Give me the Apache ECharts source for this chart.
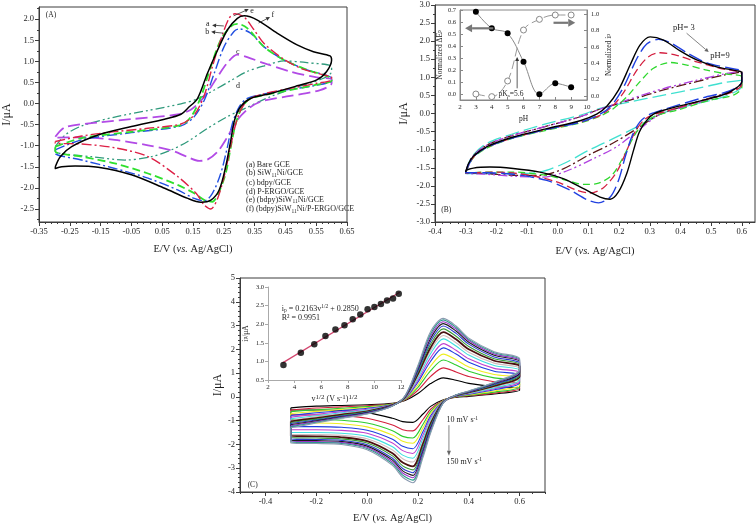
<!DOCTYPE html>
<html>
<head>
<meta charset="utf-8">
<script src="https://cdn.jsdelivr.net/npm/echarts@6.0.0/dist/echarts.min.js"></script>
<style>
html,body{margin:0;padding:0;background:#ffffff;}
#chart{width:756px;height:528px;}
</style>
</head>
<body>
<div id="chart"></div>
<script>
// ================= Panel A : CVs at different electrodes  [E (V), I (uA)] =================
const A_a_bareGCE = [[-0.297,-1.02],[-0.211,-0.82],[-0.05,-0.67],[0.111,-0.51],[0.144,-0.31],[0.176,0.165],[0.208,0.876],[0.24,1.51],[0.273,1.83],[0.294,1.89],[0.326,1.79],[0.38,1.35],[0.445,1.035],[0.52,0.80],[0.6,0.58],[0.6,0.54],[0.541,0.43],[0.434,0.275],[0.337,0.12],[0.31,-0.08],[0.289,-0.47],[0.273,-1.02],[0.256,-1.66],[0.23,-2.17],[0.213,-2.33],[0.187,-2.29],[0.154,-2.13],[0.1,-1.93],[0.004,-1.66],[-0.104,-1.42],[-0.211,-1.26],[-0.297,-1.14],[-0.297,-1.02]];
const A_b_SiW11Ni = [[-0.297,-1.10],[-0.211,-0.86],[-0.05,-0.69],[0.111,-0.53],[0.154,-0.31],[0.187,0.085],[0.219,0.72],[0.251,1.35],[0.283,1.71],[0.3,1.77],[0.337,1.67],[0.38,1.35],[0.445,1.035],[0.52,0.80],[0.6,0.60],[0.6,0.54],[0.541,0.42],[0.434,0.30],[0.326,0.12],[0.3,-0.08],[0.278,-0.47],[0.262,-1.02],[0.24,-1.66],[0.213,-2.13],[0.187,-2.31],[0.154,-2.25],[0.1,-2.05],[0.004,-1.77],[-0.104,-1.54],[-0.211,-1.34],[-0.297,-1.18],[-0.297,-1.10]];
const A_c_bdpy = [[-0.297,-0.79],[-0.265,-0.56],[-0.158,-0.45],[-0.05,-0.37],[0.1,-0.26],[0.144,-0.14],[0.187,0.165],[0.23,0.64],[0.262,0.97],[0.294,1.16],[0.326,1.10],[0.38,0.96],[0.466,0.76],[0.552,0.62],[0.6,0.58],[0.6,0.48],[0.563,0.32],[0.466,0.18],[0.38,0.07],[0.337,-0.08],[0.294,-0.39],[0.262,-0.79],[0.23,-1.14],[0.197,-1.33],[0.17,-1.36],[0.133,-1.27],[0.079,-1.11],[0.004,-0.99],[-0.104,-0.86],[-0.211,-0.80],[-0.297,-0.81],[-0.297,-0.79]];
const A_d_PERGO = [[-0.297,-1.02],[-0.265,-0.745],[-0.211,-0.53],[-0.104,-0.32],[0.004,-0.165],[0.111,-0.007],[0.165,0.11],[0.219,0.32],[0.273,0.545],[0.326,0.76],[0.38,0.89],[0.445,1.01],[0.52,0.97],[0.6,0.88],[0.6,0.76],[0.574,0.60],[0.488,0.39],[0.402,0.165],[0.326,-0.09],[0.262,-0.31],[0.197,-0.59],[0.133,-0.90],[0.079,-1.10],[0.015,-1.26],[-0.071,-1.34],[-0.179,-1.26],[-0.265,-1.20],[-0.297,-1.14],[-0.297,-1.02]];
const A_e_bdpySiW11Ni = [[-0.297,-0.90],[-0.211,-0.77],[-0.104,-0.667],[0.004,-0.587],[0.111,-0.485],[0.154,-0.27],[0.187,0.204],[0.213,0.876],[0.24,1.51],[0.267,2.02],[0.286,2.13],[0.316,2.05],[0.348,1.75],[0.38,1.43],[0.445,1.05],[0.509,0.81],[0.574,0.68],[0.6,0.62],[0.6,0.56],[0.552,0.48],[0.466,0.36],[0.38,0.23],[0.332,0.10],[0.305,-0.15],[0.285,-0.59],[0.27,-1.10],[0.251,-1.73],[0.23,-2.25],[0.208,-2.50],[0.187,-2.41],[0.16,-2.13],[0.1,-1.73],[0.004,-1.26],[-0.104,-1.05],[-0.211,-0.96],[-0.297,-0.94],[-0.297,-0.90]];
const A_f_composite = [[-0.297,-1.50],[-0.281,-1.26],[-0.244,-1.02],[-0.158,-0.745],[-0.05,-0.547],[0.0575,-0.373],[0.111,-0.255],[0.133,-0.11],[0.165,0.125],[0.197,0.72],[0.23,1.27],[0.262,1.75],[0.294,2.02],[0.316,2.08],[0.359,1.98],[0.423,1.67],[0.488,1.39],[0.541,1.23],[0.595,1.13],[0.6,1.03],[0.584,0.76],[0.552,0.56],[0.488,0.42],[0.402,0.24],[0.337,0.12],[0.305,-0.07],[0.285,-0.39],[0.273,-0.86],[0.256,-1.50],[0.235,-2.05],[0.208,-2.29],[0.176,-2.34],[0.133,-2.25],[0.058,-2.01],[-0.05,-1.69],[-0.158,-1.51],[-0.233,-1.48],[-0.276,-1.50],[-0.297,-1.54],[-0.297,-1.50]];

// ================= Panel B : CVs at pH 3 ... 9 =================
const B_pH3 = [[-0.3,-1.62],[-0.291,-1.39],[-0.275,-1.18],[-0.232,-0.92],[-0.145,-0.65],[-0.036,-0.42],[0.073,-0.20],[0.127,-0.02],[0.16,0.20],[0.198,0.645],[0.236,1.34],[0.268,1.89],[0.301,2.12],[0.345,2.03],[0.399,1.73],[0.453,1.48],[0.518,1.29],[0.584,1.18],[0.6,1.13],[0.6,0.875],[0.562,0.60],[0.508,0.44],[0.432,0.28],[0.345,0.09],[0.312,-0.02],[0.29,-0.19],[0.266,-0.51],[0.247,-1.02],[0.225,-1.66],[0.198,-2.17],[0.171,-2.37],[0.138,-2.31],[0.084,-2.08],[0.018,-1.80],[-0.058,-1.62],[-0.145,-1.52],[-0.221,-1.48],[-0.275,-1.51],[-0.3,-1.59],[-0.3,-1.62]];
const B_pH4 = [[-0.3,-1.62],[-0.275,-1.20],[-0.232,-0.94],[-0.145,-0.67],[-0.036,-0.44],[0.073,-0.24],[0.138,-0.02],[0.176,0.23],[0.214,0.72],[0.258,1.52],[0.29,1.92],[0.328,2.05],[0.366,1.96],[0.421,1.68],[0.486,1.40],[0.562,1.25],[0.6,1.16],[0.6,0.875],[0.562,0.63],[0.475,0.44],[0.345,0.11],[0.301,-0.02],[0.268,-0.23],[0.241,-0.65],[0.22,-1.20],[0.198,-1.85],[0.171,-2.31],[0.133,-2.47],[0.095,-2.38],[0.04,-2.12],[-0.036,-1.85],[-0.145,-1.68],[-0.232,-1.64],[-0.3,-1.64],[-0.3,-1.62]];
const B_pH5 = [[-0.3,-1.62],[-0.275,-1.21],[-0.232,-0.94],[-0.145,-0.67],[-0.036,-0.44],[0.073,-0.24],[0.138,-0.05],[0.176,0.18],[0.214,0.57],[0.258,1.20],[0.296,1.57],[0.334,1.68],[0.388,1.61],[0.453,1.43],[0.529,1.25],[0.6,1.09],[0.6,0.81],[0.562,0.57],[0.475,0.37],[0.366,0.09],[0.306,-0.05],[0.279,-0.20],[0.252,-0.51],[0.225,-1.02],[0.192,-1.62],[0.149,-2.05],[0.105,-2.20],[0.062,-2.12],[-0.003,-1.89],[-0.09,-1.71],[-0.199,-1.62],[-0.3,-1.65],[-0.3,-1.62]];
const B_pH6 = [[-0.3,-1.62],[-0.275,-1.22],[-0.232,-0.96],[-0.145,-0.68],[-0.036,-0.46],[0.073,-0.26],[0.138,-0.07],[0.182,0.14],[0.225,0.46],[0.268,0.88],[0.312,1.25],[0.366,1.41],[0.421,1.34],[0.486,1.20],[0.551,1.09],[0.6,1.01],[0.6,0.72],[0.573,0.51],[0.497,0.37],[0.388,0.09],[0.323,-0.05],[0.279,-0.28],[0.247,-0.65],[0.214,-1.20],[0.176,-1.71],[0.127,-1.94],[0.084,-1.96],[0.029,-1.85],[-0.036,-1.71],[-0.145,-1.62],[-0.232,-1.62],[-0.3,-1.65],[-0.3,-1.62]];
const B_pH7 = [[-0.3,-1.62],[-0.28,-1.20],[-0.232,-0.83],[-0.145,-0.56],[-0.036,-0.28],[0.073,-0.05],[0.138,0.14],[0.236,0.32],[0.345,0.51],[0.453,0.69],[0.54,0.85],[0.6,0.92],[0.6,0.76],[0.54,0.46],[0.432,0.23],[0.334,-0.02],[0.258,-0.37],[0.182,-0.69],[0.105,-1.00],[0.018,-1.39],[-0.058,-1.62],[-0.145,-1.66],[-0.232,-1.66],[-0.3,-1.66],[-0.3,-1.62]];
const B_pH8 = [[-0.3,-1.62],[-0.28,-1.22],[-0.232,-0.88],[-0.145,-0.60],[-0.036,-0.35],[0.073,-0.09],[0.138,0.12],[0.236,0.37],[0.345,0.65],[0.453,0.88],[0.54,1.06],[0.6,1.15],[0.6,0.83],[0.54,0.55],[0.432,0.26],[0.334,-0.02],[0.258,-0.42],[0.182,-0.81],[0.105,-1.13],[0.018,-1.53],[-0.058,-1.71],[-0.145,-1.71],[-0.232,-1.66],[-0.3,-1.65],[-0.3,-1.62]];
const B_pH9 = [[-0.3,-1.62],[-0.28,-1.22],[-0.232,-0.88],[-0.145,-0.60],[-0.036,-0.35],[0.073,-0.09],[0.138,0.12],[0.236,0.40],[0.345,0.69],[0.453,0.92],[0.54,1.09],[0.6,1.18],[0.6,0.875],[0.54,0.53],[0.432,0.23],[0.334,-0.02],[0.263,-0.46],[0.192,-0.92],[0.116,-1.25],[0.029,-1.59],[-0.047,-1.76],[-0.134,-1.74],[-0.232,-1.68],[-0.3,-1.65],[-0.3,-1.62]];
// inset of panel B
const B_inset_pH  = [3, 4, 5, 6, 7, 8, 9];
const B_inset_dEp = [0.685, 0.548, 0.506, 0.271, 0.0, 0.091, 0.058];
const B_inset_ip  = [0.024, -0.008, 0.183, 0.805, 0.935, 0.988, 0.988];

// ================= Panel C : scan rates 10 ... 150 mV/s =================
const C_scanRates = [10,20,30,40,50,60,70,80,90,100,110,120,130,140,150];
const C_fwdE = [-0.3,-0.2,-0.1,0.0,0.1,0.15,0.2,0.25,0.3,0.35,0.4,0.5,0.6];
const C_revE = [0.6,0.5,0.4,0.35,0.3,0.25,0.22,0.18,0.14,0.1,0.0,-0.1,-0.2,-0.3];
const C_Ifwd = [
 [-0.46,-0.39,-0.36,-0.33,-0.27,-0.15,0.14,0.56,0.80,0.70,0.57,0.43,0.36],
 [-0.55,-0.47,-0.42,-0.37,-0.29,-0.12,0.28,0.86,1.22,1.05,0.86,0.64,0.55],
 [-0.62,-0.54,-0.48,-0.41,-0.30,-0.10,0.40,1.10,1.55,1.34,1.08,0.80,0.68],
 [-0.70,-0.61,-0.53,-0.45,-0.31,-0.08,0.50,1.30,1.80,1.56,1.26,0.94,0.80],
 [-0.78,-0.67,-0.58,-0.48,-0.32,-0.06,0.62,1.50,2.06,1.80,1.46,1.08,0.92],
 [-0.85,-0.73,-0.63,-0.52,-0.33,-0.05,0.70,1.65,2.24,1.96,1.60,1.20,1.02],
 [-0.92,-0.79,-0.67,-0.55,-0.34,-0.03,0.80,1.82,2.44,2.14,1.76,1.32,1.12],
 [-0.98,-0.84,-0.71,-0.58,-0.35,-0.02,0.88,1.95,2.58,2.28,1.88,1.42,1.20],
 [-1.03,-0.89,-0.75,-0.61,-0.35,0.00,0.96,2.08,2.72,2.42,2.00,1.52,1.28],
 [-1.08,-0.93,-0.78,-0.63,-0.36,0.01,1.04,2.22,2.86,2.55,2.12,1.60,1.36],
 [-1.12,-0.97,-0.81,-0.65,-0.36,0.02,1.10,2.34,2.98,2.67,2.22,1.68,1.42],
 [-1.17,-1.01,-0.84,-0.67,-0.37,0.03,1.17,2.46,3.08,2.77,2.30,1.75,1.48],
 [-1.21,-1.04,-0.86,-0.69,-0.37,0.04,1.22,2.56,3.16,2.85,2.37,1.80,1.53],
 [-1.25,-1.07,-0.88,-0.71,-0.38,0.05,1.27,2.66,3.24,2.92,2.42,1.86,1.57],
 [-1.30,-1.10,-0.90,-0.72,-0.38,0.06,1.32,2.75,3.30,2.98,2.47,1.90,1.61]
];
const C_Irev = [
 [0.28,0.12,0.02,-0.02,-0.12,-0.40,-0.72,-1.07,-1.04,-0.90,-0.66,-0.57,-0.55,-0.55],
 [0.35,0.16,0.05,0.00,-0.14,-0.52,-0.95,-1.43,-1.38,-1.18,-0.90,-0.79,-0.76,-0.75],
 [0.42,0.20,0.07,0.01,-0.15,-0.62,-1.15,-1.73,-1.66,-1.42,-1.10,-0.98,-0.95,-0.95],
 [0.50,0.25,0.09,0.02,-0.16,-0.70,-1.30,-1.95,-1.87,-1.60,-1.26,-1.13,-1.10,-1.10],
 [0.58,0.30,0.11,0.03,-0.17,-0.80,-1.46,-2.18,-2.08,-1.78,-1.40,-1.28,-1.25,-1.25],
 [0.65,0.34,0.13,0.04,-0.18,-0.88,-1.60,-2.38,-2.26,-1.94,-1.53,-1.41,-1.38,-1.38],
 [0.72,0.38,0.15,0.05,-0.19,-0.96,-1.74,-2.58,-2.45,-2.10,-1.66,-1.53,-1.50,-1.50],
 [0.80,0.42,0.17,0.05,-0.20,-1.04,-1.86,-2.74,-2.60,-2.23,-1.76,-1.62,-1.58,-1.58],
 [0.86,0.46,0.19,0.06,-0.21,-1.12,-1.98,-2.92,-2.76,-2.37,-1.86,-1.70,-1.66,-1.65],
 [0.92,0.50,0.20,0.06,-0.22,-1.20,-2.10,-3.07,-2.90,-2.48,-1.94,-1.77,-1.73,-1.72],
 [0.98,0.53,0.21,0.07,-0.23,-1.27,-2.20,-3.19,-3.01,-2.58,-2.01,-1.83,-1.79,-1.78],
 [1.03,0.56,0.22,0.07,-0.23,-1.34,-2.30,-3.30,-3.11,-2.66,-2.07,-1.88,-1.84,-1.83],
 [1.08,0.58,0.23,0.07,-0.24,-1.40,-2.38,-3.40,-3.20,-2.74,-2.12,-1.92,-1.88,-1.87],
 [1.12,0.60,0.24,0.08,-0.24,-1.46,-2.46,-3.50,-3.29,-2.81,-2.17,-1.96,-1.92,-1.91],
 [1.16,0.62,0.25,0.08,-0.25,-1.52,-2.54,-3.61,-3.38,-2.88,-2.22,-2.00,-1.96,-1.95]
];
// inset of panel C : ip vs v^1/2
const C_inset_sqrtV = [3.16,4.47,5.48,6.32,7.07,7.75,8.37,8.94,9.49,10.0,10.49,10.95,11.4,11.83];
const C_inset_ip    = [0.90,1.23,1.46,1.68,1.86,1.97,2.13,2.26,2.40,2.46,2.54,2.64,2.69,2.82];
const C_fitLine     = [[3.1,0.96],[11.9,2.86]];

// ================= tick labels =================
const A_xTicks = [-0.35,-0.25,-0.15,-0.05,0.05,0.15,0.25,0.35,0.45,0.55,0.65];
const A_yTicks = [-2.5,-2.0,-1.5,-1.0,-0.5,0.0,0.5,1.0,1.5,2.0];
const B_xTicks = [-0.4,-0.3,-0.2,-0.1,0.0,0.1,0.2,0.3,0.4,0.5,0.6];
const B_yTicks = [-3.0,-2.5,-2.0,-1.5,-1.0,-0.5,0.0,0.5,1.0,1.5,2.0,2.5,3.0];
const C_xTicks = [-0.4,-0.2,0.0,0.2,0.4,0.6];
const C_yTicks = [-4,-3,-2,-1,0,1,2,3,4,5];

// ================= styling =================
const FONT = "'Liberation Serif','DejaVu Serif',serif";
const AX = '#3c3c3c';
const TXT = '#1e1e1e';

function steps(a, b, s) { const r = []; const n = Math.round((b - a) / s); for (let i = 0; i <= n; i++) r.push(+(a + i * s).toFixed(4)); return r; }
function fmt(d) { return v => (Math.abs(v) < 1e-9 ? 0 : v).toFixed(d); }

function mainAxis(kind, grid, min, max, ticks, dec, pos, extra) {
  return Object.assign({
    type: 'value', gridIndex: grid, min: min, max: max, position: pos,
    axisLine: { show: true, onZero: false, lineStyle: { color: AX, width: 1 } },
    axisTick: { show: true, customValues: ticks, length: 4, lineStyle: { color: AX } },
    axisLabel: { show: true, customValues: ticks, formatter: fmt(dec), fontFamily: FONT, fontSize: 8.5, color: TXT, margin: 5 },
    splitLine: { show: false }
  }, extra || {});
}
function minorAxis(grid, min, max, vals, pos) {
  return {
    type: 'value', gridIndex: grid, min: min, max: max, position: pos,
    axisLine: { show: false, onZero: false },
    axisTick: { show: true, customValues: vals, length: 2, lineStyle: { color: AX } },
    axisLabel: { show: false }, splitLine: { show: false }
  };
}
const xName = { fontFamily: FONT, fontSize: 10.5, color: TXT, rich: { i: { fontFamily: FONT, fontSize: 10.5, fontStyle: 'italic', color: TXT } } };
const yName = { fontFamily: FONT, fontSize: 12, color: TXT };

const xAxis = [
  mainAxis('x', 0, -0.35, 0.65, A_xTicks, 2, 'bottom', { name: 'E/V ({i|vs.} Ag/AgCl)', nameLocation: 'middle', nameGap: 22, nameTextStyle: xName }),
  minorAxis(0, -0.35, 0.65, steps(-0.35, 0.65, 0.02), 'bottom'),
  mainAxis('x', 1, -0.4, 0.643, B_xTicks, 1, 'bottom', { name: 'E/V ({i|vs.} Ag/AgCl)', nameLocation: 'middle', nameGap: 24, nameTextStyle: xName }),
  minorAxis(1, -0.4, 0.643, steps(-0.4, 0.625, 0.025), 'bottom'),
  mainAxis('x', 2, 2, 10, steps(2, 10, 1), 0, 'bottom', {
    axisLine: { show: true, onZero: false, lineStyle: { color: '#888' } },
    axisTick: { show: true, customValues: steps(2, 10, 1), length: 3, inside: true, lineStyle: { color: '#888' } },
    axisLabel: { customValues: steps(2, 10, 1), formatter: fmt(0), fontFamily: FONT, fontSize: 7, color: TXT, margin: 4 },
    name: 'pH', nameLocation: 'middle', nameGap: 15, nameTextStyle: { fontFamily: FONT, fontSize: 7.5, color: TXT } }),
  mainAxis('x', 3, -0.5, 0.7, C_xTicks, 1, 'bottom', { name: 'E/V ({i|vs.} Ag/AgCl)', nameLocation: 'middle', nameGap: 21, nameTextStyle: xName }),
  minorAxis(3, -0.5, 0.7, steps(-0.5, 0.7, 0.05), 'bottom'),
  mainAxis('x', 4, 2, 12, steps(2, 12, 2), 0, 'bottom', {
    axisLine: { show: true, onZero: false, lineStyle: { color: '#aaa' } },
    axisTick: { show: true, customValues: steps(2, 12, 2), length: 3, lineStyle: { color: '#aaa' } },
    axisLabel: { customValues: steps(2, 12, 2), formatter: fmt(0), fontFamily: FONT, fontSize: 7, color: TXT, margin: 4 },
    name: 'v{sup|1/2} (V s{sup|-1}){sup|1/2}', nameLocation: 'middle', nameGap: 14,
    nameTextStyle: { fontFamily: FONT, fontSize: 8, color: TXT, rich: { sup: { fontFamily: FONT, fontSize: 7, color: TXT, padding: [0, 0, 3, 0] } } } })
];

const yAxis = [
  mainAxis('y', 0, -2.81, 2.29, A_yTicks, 1, 'left', { name: 'I/\u03bcA', nameLocation: 'middle', nameGap: 26, nameTextStyle: yName }),
  minorAxis(0, -2.81, 2.29, steps(-2.75, 2.25, 0.25), 'left'),
  mainAxis('y', 1, -3, 3, B_yTicks, 1, 'left', { name: 'I/\u03bcA', nameLocation: 'middle', nameGap: 25, nameTextStyle: yName }),
  minorAxis(1, -3, 3, steps(-3, 3, 0.25), 'left'),
  mainAxis('y', 2, -0.047, 0.7, steps(0, 0.7, 0.1), 1, 'left', {
    axisLine: { show: true, onZero: false, lineStyle: { color: '#888' } },
    axisTick: { show: true, customValues: steps(0, 0.7, 0.1), length: 3, inside: true, lineStyle: { color: '#888' } },
    axisLabel: { customValues: steps(0, 0.7, 0.1), formatter: fmt(1), fontFamily: FONT, fontSize: 6.5, color: TXT, margin: 4 },
    name: 'Normalized \u0394E{s|p}', nameLocation: 'middle', nameGap: 15,
    nameTextStyle: { fontFamily: FONT, fontSize: 7.5, color: TXT, rich: { s: { fontFamily: FONT, fontSize: 5.5, color: TXT } } } }),
  mainAxis('y', 2, -0.049, 1.049, steps(0, 1, 0.2), 1, 'right', {
    axisLine: { show: true, onZero: false, lineStyle: { color: '#888' } },
    axisTick: { show: true, customValues: steps(0, 1, 0.2), length: 3, inside: true, lineStyle: { color: '#888' } },
    axisLabel: { customValues: steps(0, 1, 0.2), formatter: fmt(1), fontFamily: FONT, fontSize: 6.5, color: TXT, margin: 4 },
    name: 'Normalized i{s|p}', nameLocation: 'middle', nameGap: 18, nameRotate: 90,
    nameTextStyle: { fontFamily: FONT, fontSize: 7.5, color: TXT, rich: { s: { fontFamily: FONT, fontSize: 5.5, color: TXT } } } }),
  mainAxis('y', 3, -4, 5, C_yTicks, 0, 'left', { name: 'I/\u03bcA', nameLocation: 'middle', nameGap: 15, nameTextStyle: yName }),
  minorAxis(3, -4, 5, steps(-4, 5, 0.2), 'left'),
  mainAxis('y', 4, 0.5, 3.0, steps(0.5, 3.0, 0.5), 1, 'left', {
    axisLine: { show: true, onZero: false, lineStyle: { color: '#aaa' } },
    axisTick: { show: true, customValues: steps(0.5, 3.0, 0.5), length: 3, lineStyle: { color: '#aaa' } },
    axisLabel: { customValues: steps(0.5, 3.0, 0.5), formatter: fmt(1), fontFamily: FONT, fontSize: 6.5, color: TXT, margin: 4 },
    name: 'i{s|p}/\u03bcA', nameLocation: 'middle', nameGap: 18,
    nameTextStyle: { fontFamily: FONT, fontSize: 7.5, color: TXT, rich: { s: { fontFamily: FONT, fontSize: 5.5, color: TXT } } } })
];

const grid = [
  { left: 37, top: 7, width: 310, height: 215, show: true, borderColor: AX, borderWidth: 1, backgroundColor: 'transparent' },
  { left: 435, top: 5, width: 320, height: 217, show: true, borderColor: AX, borderWidth: 1, backgroundColor: 'transparent' },
  { left: 460, top: 10, width: 127, height: 90, show: true, borderColor: '#888', borderWidth: 1, backgroundColor: '#ffffff' },
  { left: 240, top: 278, width: 305, height: 214, show: true, borderColor: AX, borderWidth: 1, backgroundColor: 'transparent' },
  { left: 268, top: 287, width: 133, height: 93, show: false }
];

function cv(data, xi, yi, color, width, dash, z) {
  return { type: 'line', xAxisIndex: xi, yAxisIndex: yi, data: data, showSymbol: false, symbol: 'none',
    smooth: 0.3, silent: true, animation: false, z: z || 2,
    lineStyle: { color: color, width: width, type: dash || 'solid', cap: 'butt', join: 'round' } };
}

const series = [];
series.push(cv(A_d_PERGO, 0, 0, '#2f9a7c', 1.3, [9, 3, 2, 3, 2, 3]));
series.push(cv(A_c_bdpy, 0, 0, '#b24ae6', 1.8, [12, 5]));
series.push(cv(A_b_SiW11Ni, 0, 0, '#2250e0', 1.4, [10, 3, 2, 3]));
series.push(cv(A_a_bareGCE, 0, 0, '#2ee02e', 1.8, [8, 4]));
series.push(cv(A_e_bdpySiW11Ni, 0, 0, '#dd2046', 1.4, [10, 3, 2, 3]));
series.push(cv(A_f_composite, 0, 0, '#000000', 1.5, 'solid', 3));
series.push(cv(B_pH7, 2, 2, '#40e0d0', 1.3, [14, 5]));
series.push(cv(B_pH8, 2, 2, '#5a1818', 1.3, [10, 3, 2, 3]));
series.push(cv(B_pH9, 2, 2, '#b040e0', 1.3, [9, 3, 2, 3, 2, 3]));
series.push(cv(B_pH6, 2, 2, '#2ed82e', 1.3, [7, 4]));
series.push(cv(B_pH5, 2, 2, '#d42040', 1.3, [8, 4]));
series.push(cv(B_pH4, 2, 2, '#2040e0', 1.4, [14, 5]));
series.push(cv(B_pH3, 2, 2, '#000000', 1.4, 'solid', 3));
series.push({ type: 'line', xAxisIndex: 4, yAxisIndex: 4, data: B_inset_pH.map((p, i) => [p, B_inset_dEp[i]]),
  smooth: 0.35, symbol: 'circle', symbolSize: 6, showSymbol: true, silent: true, animation: false, z: 5,
  itemStyle: { color: '#000' }, lineStyle: { color: '#888', width: 1 } });
series.push({ type: 'line', xAxisIndex: 4, yAxisIndex: 5, data: B_inset_pH.map((p, i) => [p, B_inset_ip[i]]),
  smooth: 0.35, symbol: 'circle', symbolSize: 6, showSymbol: true, silent: true, animation: false, z: 5,
  itemStyle: { color: '#fff', borderColor: '#888', borderWidth: 1 }, lineStyle: { color: '#999', width: 1, type: [9, 4] } });
const C_colors = ['#000000','#d4203c','#2ecc2e','#eeee22','#1f3fe0','#c040d0','#40e0e0','#cfbcbc','#4a1010','#3a9a3a','#2a3ad0','#1a1a1a','#9a30c8','#2a9a8a','#8a9ab0'];
C_Ifwd.forEach((row, k) => {
  const data = C_fwdE.map((e, i) => [e, row[i]]).concat(C_revE.map((e, i) => [e, C_Irev[k][i]]));
  data.push([C_fwdE[0], row[0]]);
  series.push(cv(data, 5, 6, C_colors[k], k === 8 ? 1.8 : 1.1, 'solid', 2 + k * 0.01));
});
series.push({ type: 'line', xAxisIndex: 7, yAxisIndex: 8, data: C_fitLine, showSymbol: false, symbol: 'none',
  silent: true, animation: false, lineStyle: { color: '#d2456e', width: 1.2 }, z: 4 });
series.push({ type: 'scatter', xAxisIndex: 7, yAxisIndex: 8, data: C_inset_sqrtV.map((v, i) => [v, C_inset_ip[i]]),
  symbol: 'circle', symbolSize: 6.5, silent: true, animation: false, itemStyle: { color: '#000' }, z: 5 });

const chart = echarts.init(document.getElementById('chart'), null, { renderer: 'canvas' });
chart.setOption({ animation: false, backgroundColor: '#ffffff', grid, xAxis, yAxis, series });

function P(xi, yi, pt) { return chart.convertToPixel({ xAxisIndex: xi, yAxisIndex: yi }, pt); }
function txt(p, text, o) {
  const st = Object.assign({ text: text, fontFamily: FONT, fontSize: 8, fill: TXT, align: 'left', verticalAlign: 'middle',
    textAlign: 'left', textVerticalAlign: 'middle' }, o || {});
  return { type: 'text', x: p[0], y: p[1], style: st, silent: true, z: 20 };
}
function arrow(p1, p2, color, w, hl, hw) {
  const dx = p2[0] - p1[0], dy = p2[1] - p1[1], L = Math.hypot(dx, dy), ux = dx / L, uy = dy / L;
  const bx = p2[0] - ux * hl, by = p2[1] - uy * hl;
  return [
    { type: 'line', shape: { x1: p1[0], y1: p1[1], x2: bx, y2: by }, style: { stroke: color, lineWidth: w }, silent: true, z: 20 },
    { type: 'polygon', shape: { points: [[p2[0], p2[1]], [bx - uy * hw, by + ux * hw], [bx + uy * hw, by - ux * hw]] }, style: { fill: color }, silent: true, z: 20 }
  ];
}
const sub = { n: { fontFamily: FONT, fontSize: 8, fill: TXT, color: TXT }, s: { fontFamily: FONT, fontSize: 5.5, fill: TXT, color: TXT, padding: [4, 0, 0, 0] } };
const sup = { n: { fontFamily: FONT, fontSize: 8, fill: TXT, color: TXT }, sup: { fontFamily: FONT, fontSize: 5.5, fill: TXT, color: TXT, padding: [0, 0, 4, 0] } };

const g = [];
g.push(txt(P(0, 0, [-0.328, 2.1]), '(A)', { fontSize: 7.5 }));
g.push(txt(P(0, 0, [0.336, 2.2]), 'e', { fontSize: 8 }));
g.push(...arrow(P(0, 0, [0.282, 2.08]), P(0, 0, [0.331, 2.24]), '#333', 0.8, 4, 2));
g.push(txt(P(0, 0, [0.405, 2.10]), 'f', { fontSize: 8 }));
g.push(...arrow(P(0, 0, [0.363, 1.91]), P(0, 0, [0.400, 2.05]), '#333', 0.8, 4, 2));
g.push(txt(P(0, 0, [0.192, 1.88]), 'a', { fontSize: 8 }));
g.push(...arrow(P(0, 0, [0.25, 1.84]), P(0, 0, [0.212, 1.86]), '#333', 0.8, 4, 2));
g.push(txt(P(0, 0, [0.19, 1.70]), 'b', { fontSize: 8 }));
g.push(...arrow(P(0, 0, [0.247, 1.67]), P(0, 0, [0.209, 1.70]), '#333', 0.8, 4, 2));
g.push(txt(P(0, 0, [0.29, 1.22]), 'c', { fontSize: 8 }));
g.push(txt(P(0, 0, [0.29, 0.42]), 'd', { fontSize: 8 }));
const A_legend = [
  '{n|(a) Bare GCE}',
  '{n|(b) SiW}{s|11}{n|Ni/GCE}',
  '{n|(c) bdpy/GCE}',
  '{n|(d) P-ERGO/GCE}',
  '{n|(e) (bdpy)SiW}{s|11}{n|Ni/GCE}',
  '{n|(f) (bdpy)SiW}{s|11}{n|Ni/P-ERGO/GCE}'
];
const A_legendY = [-1.456, -1.657, -1.883, -2.085, -2.286, -2.511];
A_legend.forEach((t, i) => g.push(txt(P(0, 0, [0.322, A_legendY[i]]), t, { rich: sub })));
g.push(txt(P(2, 2, [0.376, 2.36]), 'pH= 3', { fontSize: 8.5 }));
g.push(...arrow(P(2, 2, [0.42, 2.22]), P(2, 2, [0.492, 1.70]), '#666', 0.8, 4, 2));
g.push(txt(P(2, 2, [0.497, 1.59]), 'pH=9', { fontSize: 8.5 }));
g.push(txt(P(2, 2, [-0.38, -2.67]), '(B)', { fontSize: 7.5 }));
g.push(...arrow(P(4, 4, [4.10, 0.548]), P(4, 4, [2.32, 0.548]), '#777', 2.2, 7, 4));
g.push(...arrow(P(4, 4, [7.89, 0.594]), P(4, 4, [9.26, 0.594]), '#777', 2.2, 7, 4));
g.push(...arrow(P(4, 4, [5.6, 0.05]), P(4, 4, [5.6, 0.31]), '#333', 0.8, 4, 2));
g.push(txt(P(4, 4, [4.42, 0.0]), '{n|pK}{s|a}{n|=5.6}', { rich: { n: { fontFamily: FONT, fontSize: 7.5, fill: TXT, color: TXT }, s: { fontFamily: FONT, fontSize: 5, fill: TXT, color: TXT, padding: [3, 0, 0, 0] } } }));
g.push(txt(P(5, 6, [0.312, -0.98]), '{n|10 mV s}{sup|-1}', { rich: sup }));
g.push(...arrow(P(5, 6, [0.322, -1.19]), P(5, 6, [0.322, -2.48]), '#666', 0.8, 5, 2));
g.push(txt(P(5, 6, [0.312, -2.74]), '{n|150 mV s}{sup|-1}', { rich: sup }));
g.push(txt(P(5, 6, [-0.47, -3.72]), '(C)', { fontSize: 7.5 }));
g.push(txt(P(7, 8, [3.03, 2.41]), '{n|i}{s|p}{n| = 0.2163v}{sup|1/2}{n| + 0.2850}', {
  rich: { n: { fontFamily: FONT, fontSize: 8, fill: TXT, color: TXT }, s: sub.s, sup: sup.sup } }));
g.push(txt(P(7, 8, [3.03, 2.17]), 'R\u00b2 = 0.9951', { fontSize: 8 }));

chart.setOption({ graphic: { elements: g } });
</script>
</body>
</html>
